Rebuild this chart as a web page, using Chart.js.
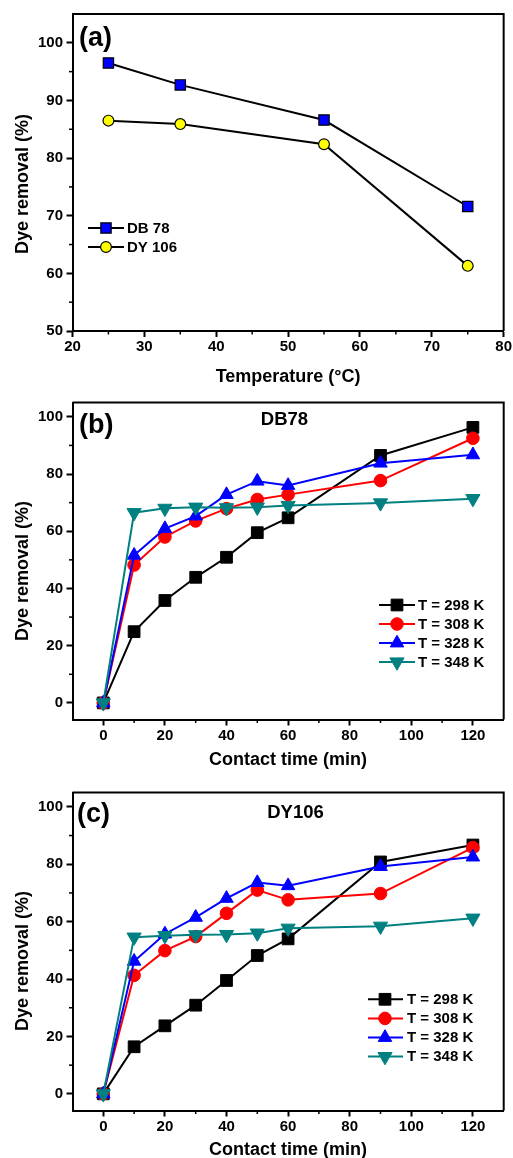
<!DOCTYPE html>
<html><head><meta charset="utf-8">
<script src="https://cdn.jsdelivr.net/npm/chart.js@4.4.0/dist/chart.umd.min.js"></script>
<style>
html,body{margin:0;padding:0;background:#fff;overflow:hidden;width:513px;height:1158px}
.wrap{position:absolute;left:0;width:513px;height:390px}
canvas{display:block}
</style></head><body>
<div class="wrap" style="top:0"><canvas id="ca" width="513" height="390"></canvas></div>
<div class="wrap" style="top:390px"><canvas id="cb" width="513" height="390"></canvas></div>
<div class="wrap" style="top:780px"><canvas id="cc" width="513" height="390"></canvas></div>
<script>
// ---------- data ----------
const tempC = [25, 35, 55, 75];
const db78Temp = [96.5, 92.7, 86.6, 71.6];
const dy106Temp = [86.5, 85.9, 82.4, 61.3];
const tempXTicks = [20, 30, 40, 50, 60, 70, 80];
const tempYTicks = [50, 60, 70, 80, 90, 100];

const timeMin = [0, 10, 20, 30, 40, 50, 60, 90, 120];
const db78_298 = [0, 24.9, 35.8, 43.9, 50.9, 59.5, 64.7, 86.5, 96.3];
const db78_308 = [0, 48.2, 58.0, 63.6, 67.9, 71.1, 72.8, 77.7, 92.5];
const db78_328 = [0, 51.6, 60.9, 65.3, 72.8, 77.5, 76.0, 83.8, 86.7];
const db78_348 = [0, 66.5, 68.0, 68.4, 68.2, 68.4, 69.0, 69.9, 71.4];
const dy106_298 = [0, 16.4, 23.7, 30.9, 39.5, 48.2, 54.0, 80.8, 86.7];
const dy106_308 = [0, 41.3, 49.9, 54.8, 62.9, 71.0, 67.6, 69.8, 85.8];
const dy106_328 = [0, 46.2, 55.7, 61.5, 68.1, 73.6, 72.5, 79.2, 82.5];
const dy106_348 = [0, 54.6, 55.1, 55.4, 55.5, 56.0, 57.7, 58.4, 61.2];
const timeXTicks = [0, 20, 40, 60, 80, 100, 120];
const timeYTicks = [0, 20, 40, 60, 80, 100];
const tempLabels = ['T = 298 K', 'T = 308 K', 'T = 328 K', 'T = 348 K'];
const dyeLabels = ['DB 78', 'DY 106'];

// ---------- styles ----------
const FONT = '"Liberation Sans", Arial, Helvetica, sans-serif';
const kColors = ['#000000', '#ff0000', '#0000ff', '#008080'];
const kStyles = [
  {pointStyle: 'rect', pointRadius: 8.3, pointRotation: 0},
  {pointStyle: 'circle', pointRadius: 6.3, pointRotation: 0},
  {pointStyle: 'triangle', pointRadius: 7.8, pointRotation: 0},
  {pointStyle: 'triangle', pointRadius: 8.2, pointRotation: 180}
];

function pts(xs, ys) { return xs.map((x, i) => ({x: x, y: ys[i]})); }

function kineticSets(arrs) {
  return arrs.map((a, i) => Object.assign({
    label: tempLabels[i], data: pts(timeMin, a),
    borderColor: kColors[i], backgroundColor: kColors[i],
    pointBackgroundColor: kColors[i], pointBorderColor: kColors[i],
    pointBorderWidth: 1, borderWidth: 2, tension: 0, order: 4 - i, clip: false
  }, kStyles[i]));
}

function drawPt(ctx, style, radius, rot, x, y, fill, stroke, bw) {
  ctx.save();
  ctx.fillStyle = fill; ctx.strokeStyle = stroke; ctx.lineWidth = bw;
  Chart.helpers.drawPoint(ctx, {pointStyle: style, radius: radius, rotation: rot, borderWidth: bw}, x, y);
  ctx.restore();
}

function makePanel(id, p) {
  const plugin = {
    id: 'panel' + id,
    afterDraw(chart) {
      const ctx = chart.ctx, a = chart.chartArea;
      const xs = chart.scales.x, ys = chart.scales.y;
      ctx.save();
      // frame top & right
      ctx.strokeStyle = '#000'; ctx.lineWidth = 2;
      ctx.beginPath();
      ctx.moveTo(a.left, a.top); ctx.lineTo(a.right, a.top); ctx.lineTo(a.right, a.bottom);
      ctx.stroke();
      // minor ticks
      ctx.lineWidth = 1.5;
      p.xMinor.forEach(v => {
        const px = xs.getPixelForValue(v);
        ctx.beginPath(); ctx.moveTo(px, a.bottom); ctx.lineTo(px, a.bottom + 3.5); ctx.stroke();
      });
      p.yMinor.forEach(v => {
        const py = ys.getPixelForValue(v);
        ctx.beginPath(); ctx.moveTo(a.left, py); ctx.lineTo(a.left - 3.5, py); ctx.stroke();
      });
      // y title
      ctx.fillStyle = '#000';
      ctx.font = 'bold 18px ' + FONT;
      ctx.textAlign = 'center'; ctx.textBaseline = 'middle';
      ctx.translate(p.yTitle.x, p.yTitle.y); ctx.rotate(-Math.PI / 2);
      ctx.fillText(p.yTitle.text, 0, 0);
      ctx.setTransform(1, 0, 0, 1, 0, 0);
      // panel label
      ctx.font = 'bold 27px ' + FONT; ctx.textAlign = 'left';
      ctx.fillText(p.tag.text, p.tag.x, p.tag.y);
      if (p.head) {
        ctx.font = 'bold 18.5px ' + FONT; ctx.textAlign = 'center';
        ctx.fillText(p.head.text, p.head.x, p.head.y);
      }
      // legend
      const L = p.legend;
      chart.data.datasets.forEach((ds, i) => {
        const y = L.y0 + i * L.dy;
        ctx.strokeStyle = L.lineColor || ds.borderColor; ctx.lineWidth = 2;
        ctx.beginPath(); ctx.moveTo(L.x1, y); ctx.lineTo(L.x2, y); ctx.stroke();
        drawPt(ctx, ds.pointStyle, ds.pointRadius, ds.pointRotation || 0, L.xm, y,
               ds.pointBackgroundColor, ds.pointBorderColor, ds.pointBorderWidth);
        ctx.fillStyle = '#000'; ctx.font = 'bold 15px ' + FONT;
        ctx.textAlign = 'left'; ctx.textBaseline = 'middle';
        ctx.fillText(ds.label, L.xt, y + 0.5);
      });
      ctx.restore();
    }
  };
  const tickFont = {family: FONT, weight: 'bold', size: 15};
  return new Chart(document.getElementById(id), {
    type: 'line',
    data: {datasets: p.datasets},
    options: {
      responsive: false, animation: false, devicePixelRatio: 1,
      layout: {padding: {left: 0, top: p.area.top, right: 513 - p.area.right, bottom: 0}},
      plugins: {legend: {display: false}, tooltip: {enabled: false}},
      scales: {
        x: {
          type: 'linear', min: p.xMin, max: p.xMax,
          afterBuildTicks: s => { s.ticks = p.xTicks.map(v => ({value: v})); },
          afterFit: s => { s.height = 390 - p.area.bottom; },
          ticks: {font: tickFont, color: '#000', padding: 1, maxRotation: 0, autoSkip: false},
          grid: {drawOnChartArea: false, drawTicks: true, tickLength: 6, tickWidth: 2, tickColor: '#000', color: '#000'},
          border: {display: true, width: 2, color: '#000'},
          title: {display: true, text: p.xTitle, color: '#000',
                  font: {family: FONT, weight: 'bold', size: 18}, padding: {top: 0, bottom: p.xTitlePad}}
        },
        y: {
          type: 'linear', min: p.yMin, max: p.yMax,
          afterBuildTicks: s => { s.ticks = p.yTicks.map(v => ({value: v})); },
          afterFit: s => { s.width = p.area.left; },
          ticks: {font: tickFont, color: '#000', padding: 3.5, autoSkip: false},
          grid: {drawOnChartArea: false, drawTicks: true, tickLength: 6, tickWidth: 2, tickColor: '#000', color: '#000'},
          border: {display: true, width: 2, color: '#000'},
          title: {display: false}
        }
      }
    },
    plugins: [plugin]
  });
}

// ---------- panel (a) ----------
makePanel('ca', {
  datasets: [
    {label: dyeLabels[0], data: pts(tempC, db78Temp), borderColor: '#000', borderWidth: 2,
     pointStyle: 'rect', pointRadius: 7.3, pointBackgroundColor: '#0000ff', pointBorderColor: '#000',
     pointBorderWidth: 1.2, tension: 0, clip: false},
    {label: dyeLabels[1], data: pts(tempC, dy106Temp), borderColor: '#000', borderWidth: 2,
     pointStyle: 'circle', pointRadius: 5.4, pointBackgroundColor: '#ffff00', pointBorderColor: '#000',
     pointBorderWidth: 1.2, tension: 0, clip: false}
  ],
  area: {left: 72.5, right: 504.5, top: 14, bottom: 331},
  xMin: 20, xMax: 80, yMin: 50, yMax: 105,
  xTicks: tempXTicks, yTicks: tempYTicks,
  xMinor: [25, 35, 45, 55, 65, 75], yMinor: [55, 65, 75, 85, 95],
  xTitle: 'Temperature (°C)', xTitlePad: 2,
  yTitle: {text: 'Dye removal (%)', x: 23, y: 184},
  tag: {text: '(a)', x: 79, y: 38.5},
  legend: {x1: 88, x2: 124, xm: 106, xt: 127, y0: 228, dy: 19, lineColor: '#000'}
});

// ---------- panel (b) ----------
makePanel('cb', {
  datasets: kineticSets([db78_298, db78_308, db78_328, db78_348]),
  area: {left: 72.5, right: 504, top: 11, bottom: 329.5},
  xMin: -10, xMax: 130, yMin: -5.8, yMax: 105,
  xTicks: timeXTicks, yTicks: timeYTicks,
  xMinor: [10, 30, 50, 70, 90, 110], yMinor: [10, 30, 50, 70, 90],
  xTitle: 'Contact time (min)', xTitlePad: 9,
  yTitle: {text: 'Dye removal (%)', x: 23, y: 181},
  tag: {text: '(b)', x: 79, y: 35.5},
  head: {text: 'DB78', x: 284.5, y: 30},
  legend: {x1: 379, x2: 415, xm: 397, xt: 418, y0: 215, dy: 19}
});

// ---------- panel (c) ----------
makePanel('cc', {
  datasets: kineticSets([dy106_298, dy106_308, dy106_328, dy106_348]),
  area: {left: 72.5, right: 504, top: 11, bottom: 330.5},
  xMin: -10, xMax: 130, yMin: -5.8, yMax: 105,
  xTicks: timeXTicks, yTicks: timeYTicks,
  xMinor: [10, 30, 50, 70, 90, 110], yMinor: [10, 30, 50, 70, 90],
  xTitle: 'Contact time (min)', xTitlePad: 9,
  yTitle: {text: 'Dye removal (%)', x: 23, y: 181},
  tag: {text: '(c)', x: 77, y: 34.5},
  head: {text: 'DY106', x: 295.5, y: 32.7},
  legend: {x1: 368, x2: 403, xm: 385, xt: 407, y0: 219.3, dy: 19.1}
});
</script>
</body></html>
